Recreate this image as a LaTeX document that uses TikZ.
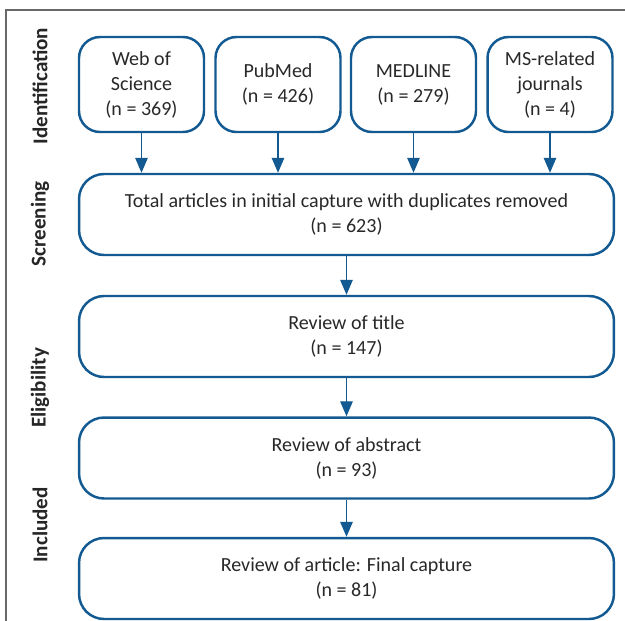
\documentclass[tikz,border=0pt]{standalone}
\usepackage{fontspec}
\setmainfont{Carlito}
\usetikzlibrary{positioning, arrows.meta}
\definecolor{flowblue}{RGB}{18,90,145}
\definecolor{frameg}{RGB}{105,105,105}
\definecolor{txtg}{RGB}{40,40,40}

\begin{document}
\begin{tikzpicture}[x=0.02cm, y=-0.02cm,
		srcbox/.style={shape=rectangle, rounded corners=0.42cm, draw=flowblue, line width=1.4pt, minimum width=2.5cm, minimum height=1.9cm, align=center, text=txtg, font=\fontsize{11.4}{14.2}\selectfont},
		stagebox/.style={srcbox, rounded corners=0.5cm, minimum width=10.7cm, minimum height=1.62cm},
		phase/.style={rotate=90, font=\fontsize{12}{14}\selectfont\bfseries, text=black!85},
		flow/.style={draw=flowblue, line width=0.8pt, -{Triangle[width=0.25cm, length=0.3cm]}}]
		\useasboundingbox (0, 0) rectangle (625, 620);
		\draw[frameg, line width=0.8pt] (6, 622) -- (6, 10) -- (625, 10);
		
		% phases down the left side
		\node[phase] (ident) at (40, 86) {Identification};
		\node[phase] (screen) at (40, 224) {Screening};
		\node[phase] (elig) at (40, 388) {Eligibility};
		\node[phase] (incl) at (40, 525) {Included};
		
		% sources
		\node[srcbox] (wos) at (141.5, 84.5) {Web of\\Science\\(n = 369)};
		\node[srcbox] (pubmed) at (278, 84.5) {PubMed\\(n = 426)};
		\node[srcbox] (medline) at (413.5, 84.5) {MEDLINE\\(n = 279)};
		\node[srcbox] (msj) at (550, 84.5) {MS-related\\journals\\(n = 4)};
		
		% stages
		\node[stagebox] (total) at (346.5, 214.5) {Total articles in initial capture with duplicates removed\\(n = 623)};
		\node[stagebox] (title) at (346.5, 336.5) {Review of title\\(n = 147)};
		\node[stagebox] (abstract) at (346.5, 458) {Review of abstract\\(n = 93)};
		\node[stagebox] (final) at (346.5, 578.5) {Review of article: Final capture\\(n = 81)};
		
		\foreach \s in {wos, pubmed, medline, msj}
			\draw[flow] (\s.south) -- (\s.south |- total.north);
		\draw[flow] (total) -- (title);
		\draw[flow] (title) -- (abstract);
		\draw[flow] (abstract) -- (final);
	\end{tikzpicture}
\end{document}
